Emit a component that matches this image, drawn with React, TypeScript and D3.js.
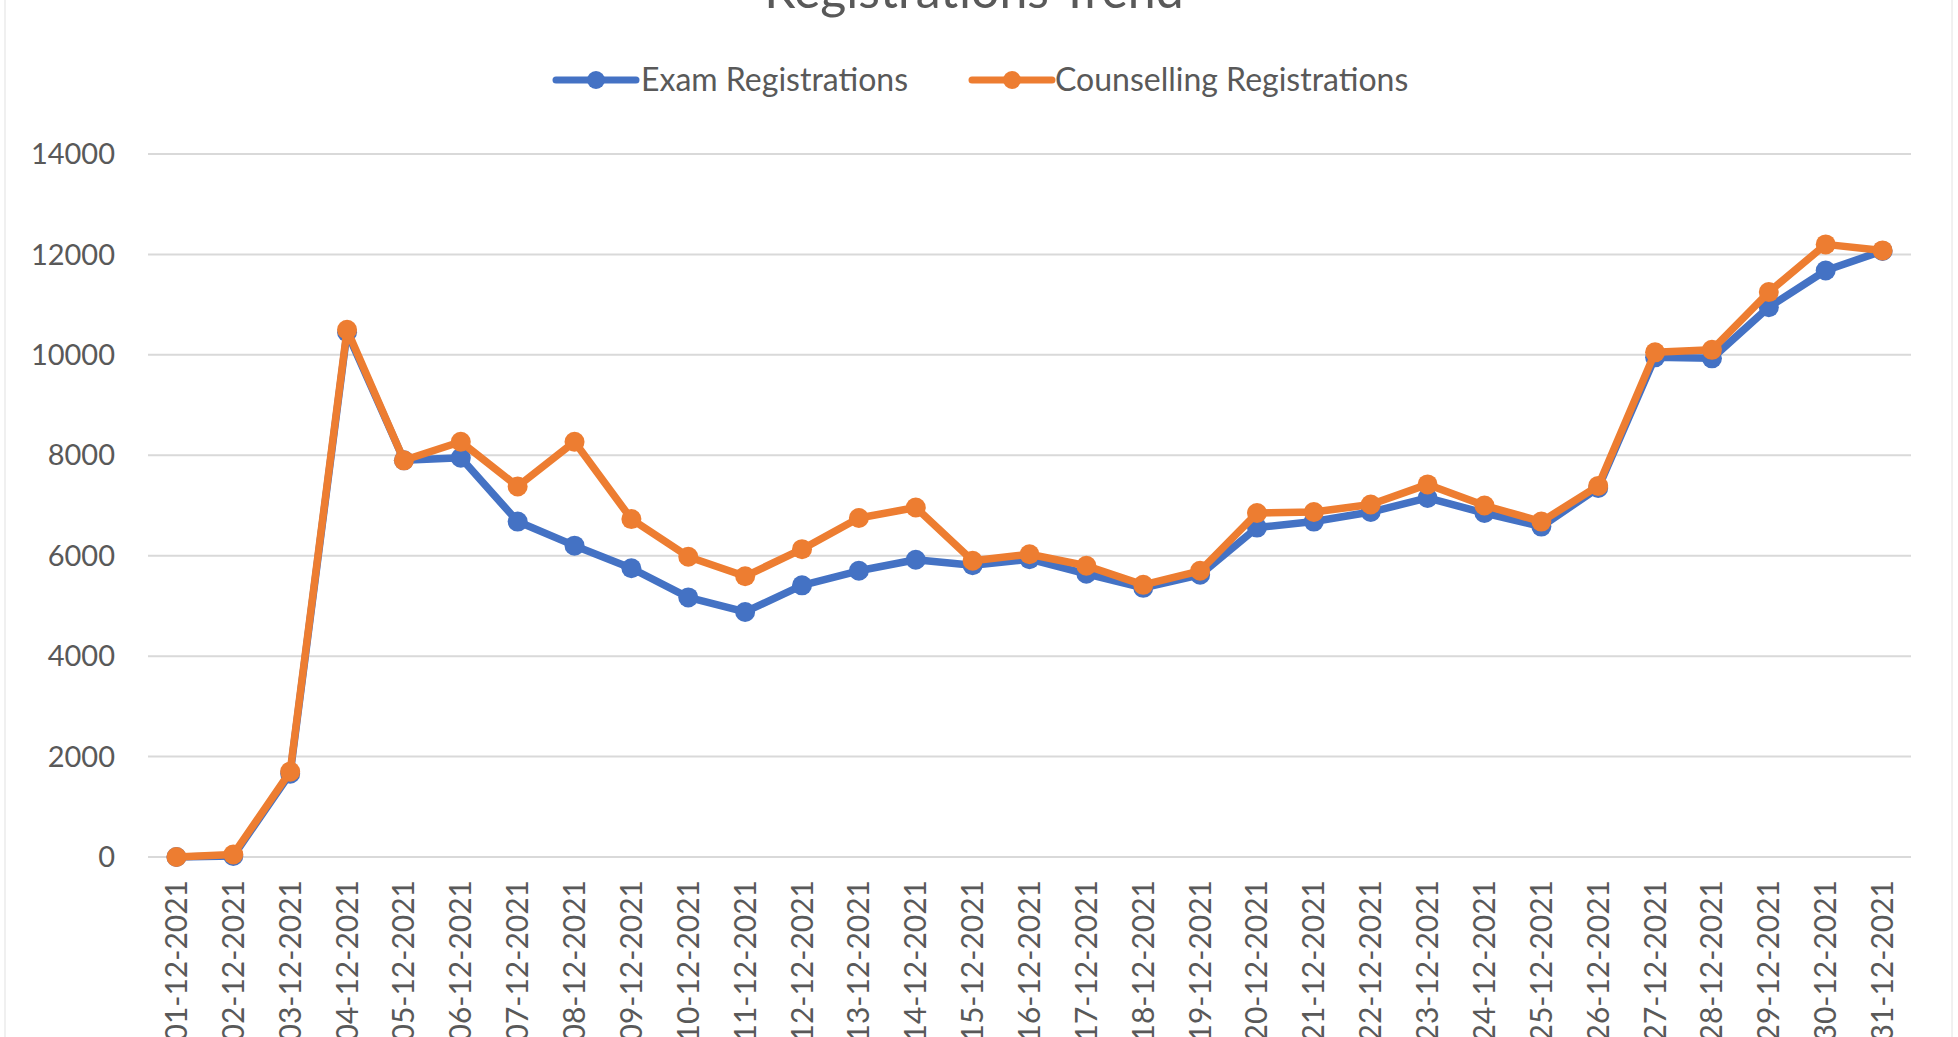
import React from "react"
import * as d3 from "d3"

const dates = [
  "01-12-2021", "02-12-2021", "03-12-2021", "04-12-2021", "05-12-2021", "06-12-2021",
  "07-12-2021", "08-12-2021", "09-12-2021", "10-12-2021", "11-12-2021", "12-12-2021",
  "13-12-2021", "14-12-2021", "15-12-2021", "16-12-2021", "17-12-2021", "18-12-2021",
  "19-12-2021", "20-12-2021", "21-12-2021", "22-12-2021", "23-12-2021", "24-12-2021",
  "25-12-2021", "26-12-2021", "27-12-2021", "28-12-2021", "29-12-2021", "30-12-2021",
  "31-12-2021"
]

const examRegs = [
  0, 20, 1660, 10450, 7900, 7950, 6680, 6200, 5750, 5170, 4880, 5410,
  5700, 5920, 5810, 5930, 5640, 5360, 5620, 6560, 6680, 6870, 7150, 6850,
  6580, 7350, 9950, 9930, 10950, 11680, 12070
]

const counsellingRegs = [
  0, 50, 1700, 10500, 7900, 8270, 7380, 8270, 6730, 5980, 5590, 6130,
  6750, 6960, 5900, 6030, 5800, 5420, 5700, 6850, 6870, 7020, 7420, 7000,
  6680, 7390, 10050, 10100, 11250, 12200, 12080
]

const yTicks = [0, 2000, 4000, 6000, 8000, 10000, 12000, 14000]

const series = [
  { name: "Exam Registrations", values: examRegs, color: "#4472C4" },
  { name: "Counselling Registrations", values: counsellingRegs, color: "#ED7D31" }
]

const width = 1958
const height = 1037
const font = "Lato, 'Open Sans', sans-serif"
const textColor = "#595959"

export default function App() {
  const x = d3.scalePoint().domain(dates).range([148, 1911]).padding(0.5)
  const y = d3.scaleLinear().domain([0, 14000]).range([857, 154])

  const line = d3.line<number>()
    .x((d, i) => x(dates[i]))
    .y(d => y(d))

  const legendItems = [
    { x0: 556, textX: 641 },
    { x0: 972, textX: 1055 }
  ]

  return (
    <svg
      width={width}
      height={height}
      style={{ position: "absolute", left: 0, top: 0, background: "#fff" }}
      fontFamily={font}
    >
      <rect x={5} y={-10} width={1947} height={height + 20} fill="#fff" stroke="#ececec" strokeWidth={1.5} />

      {/* title, mostly cut off at the top like the source */}
      <text x={974} y={8} textAnchor="middle" fontSize={50} fill={textColor}>Registrations Trend</text>

      {/* legend */}
      {series.map((s, i) => (
        <g key={s.name}>
          <line x1={legendItems[i].x0} x2={legendItems[i].x0 + 80} y1={80} y2={80}
            stroke={s.color} strokeWidth={7} strokeLinecap="round" />
          <circle cx={legendItems[i].x0 + 40} cy={80} r={9} fill={s.color} />
          <text x={legendItems[i].textX} y={80} dy="0.35em" fontSize={32} fill={textColor}>{s.name}</text>
        </g>
      ))}

      {/* gridlines and y labels */}
      {yTicks.map(t => (
        <g key={t}>
          <line x1={148} x2={1911} y1={y(t)} y2={y(t)} stroke="#d9d9d9" strokeWidth={2} />
          <text x={115} y={y(t)} dy="0.35em" textAnchor="end" fontSize={29} fill={textColor}>{t}</text>
        </g>
      ))}

      {/* x labels */}
      {dates.map(d => (
        <text key={d} transform={`translate(${x(d)},880) rotate(-90)`} textAnchor="end" dy="0.35em"
          fontSize={30} fill={textColor}>{d}</text>
      ))}

      {/* series */}
      {series.map(s => (
        <g key={s.name}>
          <path d={line(s.values)} fill="none" stroke={s.color} strokeWidth={7.5} strokeLinejoin="round" />
          {s.values.map((v, i) => (
            <circle key={i} cx={x(dates[i])} cy={y(v)} r={10} fill={s.color} />
          ))}
        </g>
      ))}
    </svg>
  )
}
